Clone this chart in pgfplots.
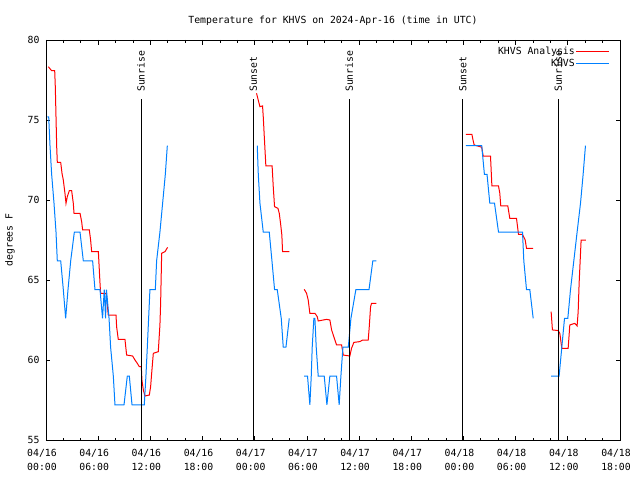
\documentclass[border=0pt]{standalone}
\usepackage{pgfplots}
\pgfplotsset{compat=1.18}
\usepackage{fontspec}
\setmainfont{DejaVu Sans Mono}
\definecolor{obsblue}{RGB}{0,128,255}
\definecolor{anared}{RGB}{255,0,0}
\begin{document}
\begin{tikzpicture}
\path[use as bounding box] (-46pt,-40pt) rectangle (594pt,440pt);
\begin{axis}[
  at={(0pt,0pt)}, anchor=south west,
  scale only axis, width=574pt, height=400pt,
  xmin=0, xmax=66, ymin=55, ymax=80,
  xtick={0,6,...,66},
  xticklabels={{04/16\\00:00},{04/16\\06:00},{04/16\\12:00},{04/16\\18:00},{04/17\\00:00},{04/17\\06:00},{04/17\\12:00},{04/17\\18:00},{04/18\\00:00},{04/18\\06:00},{04/18\\12:00},{04/18\\18:00}},
  xticklabel style={align=center, font=\fontsize{9.8}{13.5}\selectfont, xshift=-4pt, yshift=-6pt},
  yticklabel style={font=\fontsize{9.8}{12}\selectfont, xshift=-3pt},
  minor x tick num=2,
  ytick={55,60,...,80},
  major tick length=4.5pt, minor tick length=2.5pt,
  tick style={black, line width=0.8pt},
  axis line style={line width=0.8pt},
  /pgf/number format/assume math mode=true,
  title={Temperature for KHVS on 2024-Apr-16 (time in UTC)},
  title style={at={(axis description cs:0.5,1)}, anchor=center, yshift=13pt, font=\fontsize{9.8}{12}\selectfont},
  ylabel={degrees F},
  ylabel style={at={(axis description cs:-0.063,0.5)}, anchor=center, font=\fontsize{9.8}{12}\selectfont},
  unbounded coords=jump,
  legend style={at={(rel axis cs:1,1)}, anchor=north east, xshift=-10pt, yshift=-5pt, draw=none, fill=none, inner sep=0pt,
    nodes={inner sep=1pt, text height=8pt, text depth=2pt}, font=\fontsize{9.8}{12}\selectfont},
  legend cell align=right,
  legend plot pos=right,
  legend image code/.code={\path (0pt,0pt) -- (5pt,0pt); \draw[#1] (5pt,0pt) -- (33pt,0pt);},
]
\addplot[anared, line width=1pt] coordinates {
(0.27,78.33) (0.65,78.08) (1.00,78.08) (1.07,77.08) (1.15,75.2) (1.23,73.33) (1.30,72.35) (1.69,72.35)
(1.84,71.67) (1.99,71.25) (2.18,70.42) (2.30,69.79) (2.45,70.21) (2.68,70.58) (2.95,70.58) (3.14,69.79)
(3.22,69.17) (3.91,69.17) (4.10,68.65) (4.21,68.13) (4.98,68.13) (5.13,67.5) (5.25,66.77) (6.02,66.77)
(6.13,65.63) (6.21,64.79) (6.28,64.17) (6.90,64.17) (6.97,63.96) (7.16,62.81) (8.05,62.81) (8.12,62.08)
(8.31,61.29) (9.08,61.29) (9.27,60.31) (9.96,60.25) (10.23,60.0) (10.50,59.79) (10.73,59.58) (10.96,59.58)
(11.03,58.75) (11.19,58.13) (11.38,57.75) (11.88,57.81) (12.03,58.33) (12.15,59.17) (12.34,60.42) (12.91,60.52)
(13.10,62.19) (13.18,63.54) (13.30,66.67) (13.68,66.77) (13.98,67.04)
(19,nan)
(24.21,76.67) (24.40,76.25) (24.60,75.83) (24.90,75.88) (24.98,75.21) (25.10,73.96) (25.28,72.13) (26.00,72.13)
(26.13,70.83) (26.28,69.58) (26.67,69.48) (26.82,69.17) (26.97,68.54) (27.12,67.81) (27.20,66.77) (27.97,66.77)
(28.8,nan)
(29.69,64.42) (29.96,64.17) (30.15,63.75) (30.34,62.92) (30.92,62.92) (31.19,62.71) (31.30,62.44) (32.26,62.54)
(32.64,62.5) (32.84,61.88) (33.22,61.25) (33.41,60.94) (33.99,60.94) (34.18,60.31) (34.94,60.25) (35.13,60.73)
(35.40,61.1) (36.09,61.15) (36.40,61.25) (37.05,61.25) (37.17,62.08) (37.32,63.33) (37.43,63.54) (38.00,63.54)
(43,nan)
(48.28,74.1) (48.97,74.1) (49.10,73.75) (49.23,73.44) (50.10,73.3) (50.27,72.75) (51.11,72.75) (51.27,70.88)
(52.03,70.88) (52.18,70.42) (52.29,69.63) (53.10,69.63) (53.33,68.85) (54.10,68.85) (54.33,67.85) (54.79,67.85)
(55.10,67.5) (55.25,66.98) (56.02,66.98)
(57,nan)
(58.08,63.02) (58.23,61.88) (58.89,61.84) (59.08,61.67) (59.31,60.73) (60.04,60.73) (60.23,62.19) (60.80,62.29)
(61.07,62.13) (61.19,63.02) (61.30,64.79) (61.46,66.67) (61.53,67.5) (62.07,67.5)
};
\addlegendentry{KHVS Analysis}
\addplot[obsblue, line width=1pt] coordinates {
(0.15,75.2) (0.31,75.2) (0.46,73.4) (0.65,71.6) (0.92,69.8) (1.15,68.0) (1.30,66.2) (1.69,66.2)
(1.99,64.4) (2.26,62.6) (2.53,64.4) (2.84,66.2) (3.26,68.0) (3.91,68.0) (4.29,66.2) (5.36,66.2)
(5.63,64.4) (6.21,64.4) (6.50,62.6) (6.70,64.4) (6.85,62.6) (6.95,64.4) (7.25,62.6) (7.43,60.8)
(7.74,59.0) (7.93,57.2) (8.97,57.2) (9.35,59.0) (9.58,59.0) (9.89,57.2) (11.30,57.2) (11.49,59.0)
(11.65,60.8) (11.80,62.6) (11.95,64.4) (12.57,64.4) (12.72,66.2) (13.10,68.0) (13.41,69.8) (13.72,71.6)
(13.95,73.4)
(19,nan)
(24.29,73.4) (24.41,71.6) (24.60,69.8) (24.98,68.0) (25.67,68.0) (25.98,66.2) (26.28,64.4) (26.59,64.4)
(27.05,62.6) (27.28,60.8) (27.59,60.8) (27.97,62.6)
(28.8,nan)
(29.69,59.0) (30.07,59.0) (30.34,57.2) (30.50,59.0) (30.61,60.8) (30.80,62.6) (30.92,62.6) (31.07,60.8)
(31.30,59.0) (31.99,59.0) (32.30,57.2) (32.64,59.0) (33.41,59.0) (33.71,57.2) (33.91,59.0) (34.14,60.8)
(34.76,60.8) (35.06,62.6) (35.63,64.4) (37.14,64.4) (37.58,66.2) (38.00,66.2)
(43,nan)
(48.28,73.4) (50.10,73.4) (50.41,71.6) (50.71,71.6) (51.03,69.8) (51.57,69.8) (52.03,68.0) (54.79,68.0)
(54.94,66.2) (55.25,64.4) (55.63,64.4) (56.02,62.6)
(57,nan)
(58.08,59.0) (59.00,59.0) (59.31,60.8) (59.62,62.6) (60.00,62.6) (60.31,64.4) (60.69,66.2) (61.07,68.0)
(61.46,69.8) (61.76,71.6) (62.03,73.4)
};
\addlegendentry{KHVS}
% sunrise / sunset markers
\addplot[black, line width=1pt, forget plot] coordinates {(10.93,55) (10.93,76.31)};
\addplot[black, line width=1pt, forget plot] coordinates {(23.85,55) (23.85,76.31)};
\addplot[black, line width=1pt, forget plot] coordinates {(34.87,55) (34.87,76.31)};
\addplot[black, line width=1pt, forget plot] coordinates {(47.92,55) (47.92,76.31)};
\addplot[black, line width=1pt, forget plot] coordinates {(58.90,55) (58.90,76.31)};
\node[rotate=90, anchor=west, inner sep=0pt, font=\fontsize{9.8}{12}\selectfont] at (axis cs:10.93,76.75) {Sunrise};
\node[rotate=90, anchor=west, inner sep=0pt, font=\fontsize{9.8}{12}\selectfont] at (axis cs:23.85,76.75) {Sunset};
\node[rotate=90, anchor=west, inner sep=0pt, font=\fontsize{9.8}{12}\selectfont] at (axis cs:34.87,76.75) {Sunrise};
\node[rotate=90, anchor=west, inner sep=0pt, font=\fontsize{9.8}{12}\selectfont] at (axis cs:47.92,76.75) {Sunset};
\node[rotate=90, anchor=west, inner sep=0pt, font=\fontsize{9.8}{12}\selectfont] at (axis cs:58.90,76.75) {Sunrise};
\end{axis}
\end{tikzpicture}
\end{document}
